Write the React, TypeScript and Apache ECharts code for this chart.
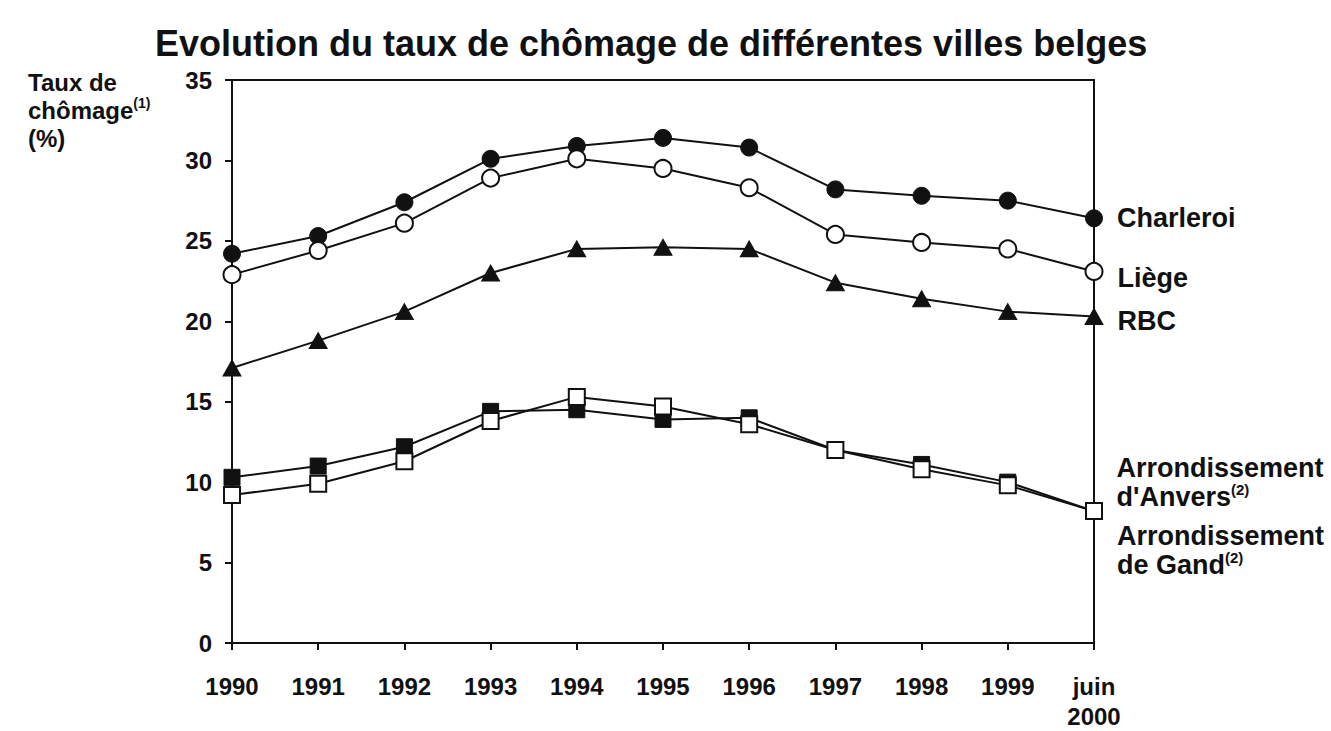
import React, { useEffect, useRef } from "react";
import * as echarts from "echarts";

const titleText = "Evolution du taux de chômage de différentes villes belges";
const yAxisName = "Taux de\nchômage{s|(1)}\n(%)";
const categories = ["1990", "1991", "1992", "1993", "1994", "1995", "1996", "1997", "1998", "1999", "juin\n2000"];

const charleroi = [24.2, 25.3, 27.4, 30.1, 30.9, 31.4, 30.8, 28.2, 27.8, 27.5, 26.4];
const liege = [22.9, 24.4, 26.1, 28.9, 30.1, 29.5, 28.3, 25.4, 24.9, 24.5, 23.1];
const rbc = [17.1, 18.8, 20.6, 23.0, 24.5, 24.6, 24.5, 22.4, 21.4, 20.6, 20.3];
const anvers = [10.3, 11.0, 12.2, 14.4, 14.5, 13.9, 14.0, 12.0, 11.1, 10.0, 8.2];
const gand = [9.2, 9.9, 11.3, 13.8, 15.3, 14.7, 13.6, 12.0, 10.8, 9.8, 8.2];

const seriesNames = ["Charleroi", "Liège", "RBC", "Arrondissement d'Anvers", "Arrondissement de Gand"];
const endLabels = ["Charleroi", "Liège", "RBC", "Arrondissement\nd'Anvers{s|(2)}", "Arrondissement\nde Gand{s|(2)}"];

const INK = "#111";
const FONT = "'Liberation Sans', Arial, sans-serif";

export default function App() {
  const ref = useRef<HTMLDivElement>(null);

  useEffect(() => {
    if (!ref.current) return;
    const chart = echarts.init(ref.current, undefined, { renderer: "svg" });

    const richSup = {
      s: { fontSize: 15, fontWeight: "bold", fontFamily: FONT, color: INK, verticalAlign: "top", lineHeight: 29 },
    };

    const mk = (
      idx: number,
      data: number[],
      symbol: string,
      symbolSize: number | number[],
      filled: boolean,
      labelDy: number
    ) => ({
      name: seriesNames[idx],
      type: "line",
      data: data.map((v, i) =>
        i === data.length - 1
          ? {
              value: v,
              label: {
                show: true,
                position: "right",
                distance: 14,
                offset: [0, labelDy],
                formatter: endLabels[idx],
                fontSize: 27,
                fontWeight: "bold",
                fontFamily: FONT,
                color: INK,
                lineHeight: 29,
                align: "left",
                rich: richSup,
              },
            }
          : v
      ),
      symbol,
      symbolSize,
      showAllSymbol: true,
      lineStyle: { color: INK, width: 2 },
      itemStyle: filled
        ? { color: INK, borderColor: INK, borderWidth: 1 }
        : { color: "#fff", borderColor: INK, borderWidth: 2 },
      z: 2 + idx,
    });

    chart.setOption({
      animation: false,
      backgroundColor: "#fff",
      title: {
        text: titleText,
        left: 150,
        top: 20,
        textStyle: { fontSize: 36, fontWeight: "bold", fontFamily: FONT, color: INK },
      },
      graphic: [
        {
          type: "text",
          left: 28,
          top: 68,
          style: {
            text: yAxisName,
            fontSize: 24,
            fontWeight: "bold",
            fontFamily: FONT,
            fill: INK,
            lineHeight: 28,
            rich: {
              s: { fontSize: 14, fontWeight: "bold", fontFamily: FONT, fill: INK, verticalAlign: "top", lineHeight: 28 },
            },
          },
        },
      ],
      grid: {
        left: 232,
        right: 237,
        top: 80,
        bottom: 86,
        show: true,
        borderColor: INK,
        borderWidth: 2,
        backgroundColor: "transparent",
      },
      xAxis: {
        type: "category",
        data: categories,
        boundaryGap: false,
        axisLine: { lineStyle: { color: INK, width: 2 } },
        axisTick: { show: true, length: 7, inside: false, lineStyle: { color: INK, width: 2 } },
        axisLabel: {
          color: INK,
          fontSize: 24,
          fontWeight: "bold",
          fontFamily: FONT,
          margin: 28,
          lineHeight: 30,
          interval: 0,
        },
        splitLine: { show: false },
      },
      yAxis: {
        type: "value",
        min: 0,
        max: 35,
        interval: 5,
        axisLine: { show: true, lineStyle: { color: INK, width: 2 } },
        axisTick: { show: true, length: 7, lineStyle: { color: INK, width: 2 } },
        axisLabel: { color: INK, fontSize: 24, fontWeight: "bold", fontFamily: FONT, margin: 20 },
        splitLine: { show: false },
      },
      series: [
        mk(0, charleroi, "circle", 17, true, 0),
        mk(1, liege, "circle", 17, false, 7),
        mk(2, rbc, "triangle", [18, 16], true, 5),
        mk(3, anvers, "rect", 16, true, -29),
        mk(4, gand, "rect", 16, false, 39),
      ],
    });

    return () => chart.dispose();
  }, []);

  return (
    <div
      ref={ref}
      style={{ position: "fixed", left: 0, top: 0, width: 1331, height: 731, background: "#fff" }}
    />
  );
}
